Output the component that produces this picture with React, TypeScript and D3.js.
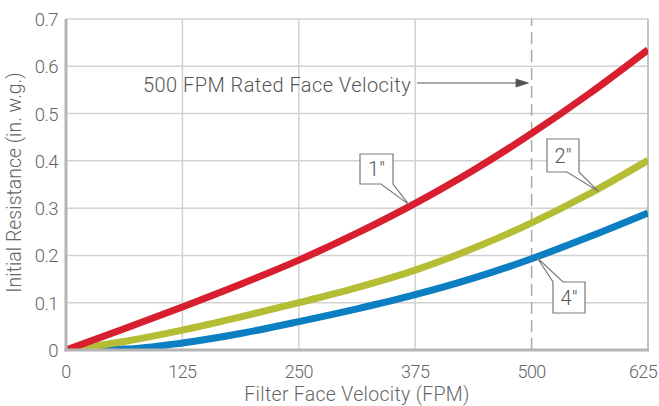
import React, { useRef, useEffect } from 'react';
import * as d3 from 'd3';

// Filter face velocity (FPM) sample points
const velocities = [0, 62.5, 125, 187.5, 250, 312.5, 375, 437.5, 500, 562.5, 625];
// Initial resistance (in. w.g.) per filter depth
const oneInch = [0, 0.045, 0.091, 0.139, 0.19, 0.247, 0.31, 0.38, 0.458, 0.543, 0.635];
const twoInch = [0, 0.018, 0.042, 0.07, 0.1, 0.132, 0.169, 0.215, 0.269, 0.331, 0.401];
const fourInch = [0, 0.002, 0.015, 0.035, 0.06, 0.087, 0.117, 0.152, 0.193, 0.24, 0.29];

const xTicks = [0, 125, 250, 375, 500, 625];
const yTicks = [0, 0.1, 0.2, 0.3, 0.4, 0.5, 0.6, 0.7];

const ratedVelocity = 500;

const series = [
  { label: '1\u2033', values: oneInch, color: '#d71f30' },
  { label: '2\u2033', values: twoInch, color: '#b4bd33' },
  { label: '4\u2033', values: fourInch, color: '#0b7fc1' },
];

const App: React.FC = () => {
  const ref = useRef<SVGSVGElement | null>(null);

  useEffect(() => {
    if (!ref.current) return;
    const svg = d3.select(ref.current);
    svg.selectAll('*').remove();

    const width = 659;
    const height = 406;
    const margin = { top: 19, right: 11, bottom: 56, left: 66 };
    const font = 'Roboto, "Helvetica Neue", Arial, sans-serif';
    const textColor = '#666';

    const x = d3.scaleLinear().domain([0, 625]).range([margin.left, width - margin.right]);
    const y = d3.scaleLinear().domain([0, 0.7]).range([height - margin.bottom, margin.top]);

    // gridlines
    svg.append('g')
      .selectAll('line.h')
      .data(yTicks.slice(1))
      .join('line')
      .attr('x1', x(0)).attr('x2', x(625))
      .attr('y1', d => y(d)).attr('y2', d => y(d))
      .attr('stroke', '#d2d2d2').attr('stroke-width', 1.5);

    svg.append('g')
      .selectAll('line.v')
      .data(xTicks.slice(1, -1).filter(d => d !== ratedVelocity))
      .join('line')
      .attr('x1', d => x(d)).attr('x2', d => x(d))
      .attr('y1', y(0)).attr('y2', y(0.7))
      .attr('stroke', '#d2d2d2').attr('stroke-width', 1.5);

    // rated velocity dashed line
    svg.append('line')
      .attr('x1', x(ratedVelocity)).attr('x2', x(ratedVelocity))
      .attr('y1', y(0)).attr('y2', y(0.7))
      .attr('stroke', '#a8a8a8').attr('stroke-width', 1.5)
      .attr('stroke-dasharray', '12,6');

    // right border
    svg.append('line')
      .attr('x1', x(625)).attr('x2', x(625))
      .attr('y1', y(0)).attr('y2', y(0.7))
      .attr('stroke', '#c4c4c4').attr('stroke-width', 2);

    // curves
    const line = d3.line<number>()
      .x((_, i) => x(velocities[i]))
      .y(d => y(d))
      .curve(d3.curveMonotoneX);

    svg.append('clipPath').attr('id', 'plot-clip')
      .append('rect')
      .attr('x', x(0)).attr('y', y(0.7))
      .attr('width', x(625) - x(0)).attr('height', y(0) - y(0.7));

    const curves = svg.append('g').attr('clip-path', 'url(#plot-clip)');
    [...series].reverse().forEach(s => {
      curves.append('path')
        .datum(s.values)
        .attr('fill', 'none')
        .attr('stroke', s.color)
        .attr('stroke-width', 7)
        .attr('d', line);
    });

    // axes
    svg.append('line')
      .attr('x1', x(0)).attr('x2', x(0))
      .attr('y1', y(0) + 1.5).attr('y2', y(0.7))
      .attr('stroke', '#b4b4b4').attr('stroke-width', 3);
    svg.append('line')
      .attr('x1', x(0) - 1.5).attr('x2', x(625) + 1)
      .attr('y1', y(0)).attr('y2', y(0))
      .attr('stroke', '#b4b4b4').attr('stroke-width', 3);

    // tick labels
    svg.append('g')
      .selectAll('text')
      .data(yTicks)
      .join('text')
      .attr('x', x(0) - 8)
      .attr('y', d => y(d) + 7)
      .attr('text-anchor', 'end')
      .attr('font-family', font).attr('font-weight', 300)
      .attr('font-size', 18.5).attr('fill', textColor)
      .attr('letter-spacing', -0.6)
      .text(d => d === 0 ? '0' : d3.format('.1f')(d));

    svg.append('g')
      .selectAll('text')
      .data(xTicks)
      .join('text')
      .attr('x', d => Math.min(x(d), width - 16))
      .attr('y', y(0) + 28)
      .attr('text-anchor', 'middle')
      .attr('font-family', font).attr('font-weight', 300)
      .attr('font-size', 18).attr('fill', textColor)
      .attr('letter-spacing', -0.6)
      .text(d => String(d));

    // axis titles
    svg.append('text')
      .attr('x', 357)
      .attr('y', height - 5)
      .attr('text-anchor', 'middle')
      .attr('font-family', font).attr('font-weight', 300)
      .attr('font-size', 19.5).attr('fill', textColor)
      .attr('letter-spacing', 0.3)
      .text('Filter Face Velocity (FPM)');

    svg.append('text')
      .attr('transform', `translate(21,${y(0.35) - 2}) rotate(-90)`)
      .attr('text-anchor', 'middle')
      .attr('font-family', font).attr('font-weight', 300)
      .attr('font-size', 19.5).attr('fill', textColor)
      .text('Initial Resistance (in. w.g.)');

    // rated velocity annotation
    const arrowY = 83;
    svg.append('text')
      .attr('x', 143)
      .attr('y', arrowY + 9)
      .attr('font-family', font).attr('font-weight', 300)
      .attr('font-size', 20).attr('fill', '#555')
      .attr('letter-spacing', 0.45)
      .text('500 FPM Rated Face Velocity');
    svg.append('line')
      .attr('x1', 417).attr('x2', x(ratedVelocity) - 12)
      .attr('y1', arrowY).attr('y2', arrowY)
      .attr('stroke', '#555').attr('stroke-width', 1.2);
    svg.append('path')
      .attr('d', `M${x(ratedVelocity) - 2},${arrowY}L${x(ratedVelocity) - 16},${arrowY - 4.5}L${x(ratedVelocity) - 16},${arrowY + 4.5}Z`)
      .attr('fill', '#555');

    // callouts: box in pixels, tail tip in data coordinates
    const callouts = [
      { label: series[0].label, tipX: 368, tipY: 0.308, box: [360, 154, 33, 30], tail: 'br' },
      { label: series[1].label, tipX: 572, tipY: 0.335, box: [547, 139, 32, 33], tail: 'br' },
      { label: series[2].label, tipX: 506, tipY: 0.195, box: [553, 282, 32, 31], tail: 'tl' },
    ];

    callouts.forEach(c => {
      const [bx, by, bw, bh] = c.box;
      const tx = x(c.tipX);
      const ty = y(c.tipY);
      let d: string;
      if (c.tail === 'br') {
        d = `M${bx},${by}H${bx + bw}V${by + bh}L${tx},${ty}L${bx + bw - 12},${by + bh}H${bx}Z`;
      } else {
        d = `M${bx},${by + bh}V${by}L${tx},${ty}L${bx + 10},${by}H${bx + bw}V${by + bh}Z`;
      }
      svg.append('path')
        .attr('d', d)
        .attr('fill', 'white')
        .attr('stroke', '#7a7a7a')
        .attr('stroke-width', 1.2)
        .attr('stroke-linejoin', 'miter');
      svg.append('text')
        .attr('x', bx + bw / 2)
        .attr('y', by + bh / 2 + 7)
        .attr('text-anchor', 'middle')
        .attr('font-family', font).attr('font-weight', 300)
        .attr('font-size', 20).attr('fill', '#555')
        .text(c.label);
    });
  }, []);

  return (
    <svg
      ref={ref}
      width={659}
      height={406}
      style={{ position: 'absolute', left: 0, top: 0, background: 'white' }}
    />
  );
};

export default App;
